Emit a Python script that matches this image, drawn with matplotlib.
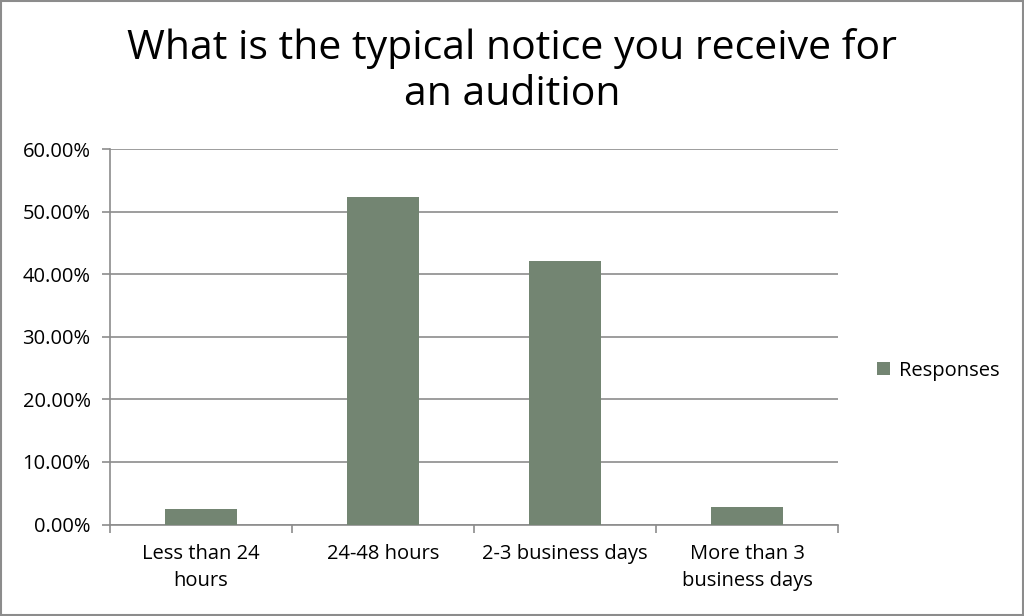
import numpy as np
import matplotlib.pyplot as plt
from matplotlib.patches import Rectangle

# survey results
categories = ['Less than 24\nhours', '24-48 hours', '2-3 business days', 'More than 3\nbusiness days']
responses = [0.025, 0.523, 0.421, 0.0275]
yticks = [0.0, 0.1, 0.2, 0.3, 0.4, 0.5, 0.6]

plt.rcParams['font.family'] = ['Open Sans', 'DejaVu Sans']
bar_color = '#738572'
grid_color = '#8c8c8c'

fig = plt.figure(figsize=(10.24, 6.16), dpi=100)
ax = fig.add_axes([0.1074, 0.1485, 0.7110, 0.6096])

x = np.arange(len(categories))
ax.bar(x, responses, width=0.4, color=bar_color, label='Responses', zorder=3)

ax.set_xlim(-0.5, len(categories) - 0.5)
ax.set_ylim(0, 0.6)
ax.set_yticks(yticks)
ax.set_yticklabels(['%.2f%%' % (v * 100) for v in yticks], fontsize=14.5)
ax.yaxis.grid(True, color=grid_color, linewidth=1.2, zorder=0)

# category labels between boundary ticks
ax.set_xticks(np.arange(-0.5, len(categories), 1.0))
ax.set_xticklabels([])
ax.set_xticks(x, minor=True)
ax.set_xticklabels(categories, minor=True, fontsize=14.5, linespacing=1.45)
ax.tick_params(axis='x', which='minor', length=0, pad=14)
ax.tick_params(axis='x', which='major', length=6, color=grid_color, width=1.2)
ax.tick_params(axis='y', length=6, color=grid_color, width=1.2, pad=8)

for side in ['top', 'right']:
    ax.spines[side].set_visible(False)
for side in ['left', 'bottom']:
    ax.spines[side].set_color(grid_color)
    ax.spines[side].set_linewidth(1.2)

fig.suptitle('What is the typical notice you receive for\nan audition', fontsize=29.5,
             y=0.955, linespacing=1.2)

ax.legend(loc='center left', bbox_to_anchor=(1.028, 0.41), frameon=False, fontsize=14.5,
          handlelength=0.65, handleheight=0.65, handletextpad=0.45)

fig.patches.append(Rectangle((0.001, 0.001), 0.998, 0.998, transform=fig.transFigure,
                             fill=False, edgecolor='#8c8c8c', linewidth=1.5))

fig.savefig('out.png', dpi=100)
